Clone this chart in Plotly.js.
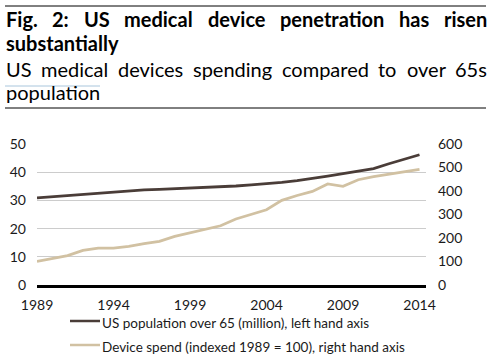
<!DOCTYPE html>
<html><head><meta charset="utf-8">
<script src="https://cdn.plot.ly/plotly-3.0.1.min.js"></script>
<style>body{margin:0;padding:0;background:#fff}#chart{width:491px;height:355px}</style>
</head><body><div id="chart"></div>
<script>
// ---- data ----
const years = [1989,1990,1991,1992,1993,1994,1995,1996,1997,1998,1999,2000,2001,2002,2003,2004,2005,2006,2007,2008,2009,2010,2011,2012,2013,2014];
const population65 = [30.9,31.3,31.7,32.2,32.6,33.0,33.4,33.7,33.9,34.1,34.3,34.6,34.8,35.1,35.5,35.9,36.4,37.0,37.7,38.6,39.5,40.4,41.3,43.0,44.7,46.2];
const deviceSpend = [100,111,125,147,157,157,164,176,186,207,221,238,252,281,300,320,360,381,398,430,420,448,461,472,482,492];
const xTicks = [1989,1994,1999,2004,2009,2014];
const leftTicks = [0,10,20,30,40,50];
const rightTicks = [0,100,200,300,400,500,600];
const titleLine1 = "Fig. 2: US medical device penetration has risen";
const titleLine2 = "substantially";
const subLine1 = "US medical devices spending compared to over 65s";
const subLine2 = "population";
const legendPop = "US population over 65 (million), left hand axis";
const legendDev = "Device spend (indexed 1989 = 100), right hand axis";

// ---- layout geometry ----
const W = 491, H = 355;
const M = {l:37, r:65, t:144, b:70};
const PW = W - M.l - M.r, PH = H - M.t - M.b;
const px2x = p => (p - M.l) / PW;
const py2y = p => 1 - (p - M.t) / PH;
const popColor = '#4a3d38', devColor = '#d1c1a2';
const FONT = 'Lato, "Open Sans", sans-serif';

const cv = document.createElement('canvas').getContext('2d');
function measure(t, f){ cv.font = f; return cv.measureText(t).width; }

const annotations = [];
function addText(t, xpx, ypx, size, bold, color){
  annotations.push({text: bold ? '<b>'+t+'</b>' : t, xref:'paper', yref:'paper',
    x: px2x(xpx), y: py2y(ypx), xanchor:'left', yanchor:'middle', showarrow:false,
    borderpad:0, font:{family:FONT, size:size, color:color||'#000'}});
}
function justify(line, x0, x1, ypx, size, bold){
  const f = (bold?'bold ':'') + size + 'px Lato';
  const words = line.split(' ');
  const ws = words.map(w => measure(w, f));
  const total = ws.reduce((a,b)=>a+b,0);
  const gap = (x1 - x0 - total) / (words.length - 1);
  let x = x0;
  words.forEach((w,i) => { addText(w, x, ypx, size, bold); x += ws[i] + gap; });
}
justify(titleLine1, 5, 486, 19, 20, true);
addText(titleLine2, 5, 42.5, 20, true);
justify(subLine1, 5, 486, 69, 20, false);
addText(subLine2, 5, 92, 20, false);
addText(legendPop, 101, 323, 13.5, false, '#1a1a1a');
addText(legendDev, 101, 347, 13.5, false, '#1a1a1a');

const shapes = [
  {type:'line', xref:'paper', yref:'paper', x0:px2x(5), x1:px2x(486), y0:py2y(6), y1:py2y(6), line:{color:'#000', width:1}},
  {type:'line', xref:'paper', yref:'paper', x0:px2x(5), x1:px2x(486), y0:py2y(108), y1:py2y(108), line:{color:'#000', width:1}},
  {type:'line', xref:'paper', yref:'paper', x0:px2x(5), x1:px2x(100), y0:py2y(86), y1:py2y(86), line:{color:'#a9c6dc', width:1}},
  {type:'line', xref:'paper', yref:'paper', x0:px2x(70), x1:px2x(100), y0:py2y(321), y1:py2y(321), line:{color:popColor, width:2.5}},
  {type:'line', xref:'paper', yref:'paper', x0:px2x(70), x1:px2x(100), y0:py2y(345), y1:py2y(345), line:{color:devColor, width:2.5}}
];

const traces = [
  {x: years, y: population65, type:'scatter', mode:'lines', name: legendPop, line:{color:popColor, width:2.8}, yaxis:'y'},
  {x: years, y: deviceSpend, type:'scatter', mode:'lines', name: legendDev, line:{color:devColor, width:2.8}, yaxis:'y2'}
];

const tickFont = {family:FONT, size:14, color:'#1a1a1a'};
const layout = {
  width:W, height:H, margin:M, showlegend:false,
  paper_bgcolor:'#fff', plot_bgcolor:'#fff',
  xaxis:{range:[1989, 1989 + (426-37)/15.3], tickvals:xTicks, ticktext:xTicks.map(String), showgrid:false, zeroline:false,
    showline:true, linecolor:'#000', linewidth:2.5, ticks:'', tickfont:tickFont, ticklabelstandoff:6, fixedrange:true},
  yaxis:{range:[0,50], tickvals:leftTicks, showgrid:true, gridcolor:'#cccccc', gridwidth:1, zeroline:false, showline:false,
    ticks:'', tickfont:tickFont, ticklabelstandoff:10},
  yaxis2:{range:[0,600], tickvals:rightTicks, overlaying:'y', side:'right', showgrid:false, zeroline:false, showline:false,
    ticks:'', tickfont:tickFont, ticklabelstandoff:11},
  annotations: annotations, shapes: shapes
};
Plotly.newPlot('chart', traces, layout, {displayModeBar:false, staticPlot:true});
</script></body></html>
